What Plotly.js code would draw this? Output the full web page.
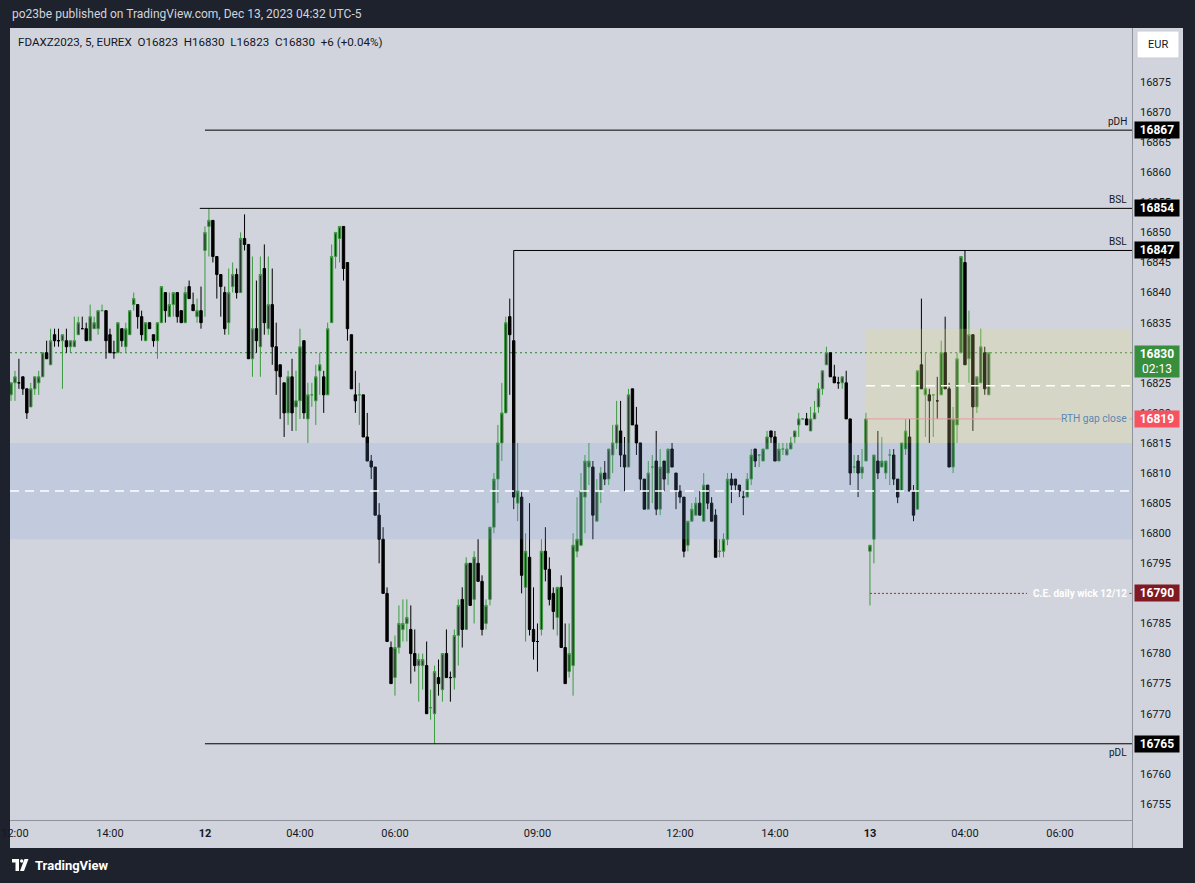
<!DOCTYPE html>
<html><head><meta charset="utf-8">
<script src="https://cdn.plot.ly/plotly-3.0.1.min.js"></script>
<style>html,body{margin:0;padding:0;background:#1e222d;overflow:hidden}#chart{width:1195px;height:883px}</style>
</head><body><div id="chart"></div>
<script>
// FDAXZ2023, 5-minute candles, Dec 11 11:55 -> Dec 13 04:30 (UTC-5), sessions stacked without gaps
const opens = [
16823,16825,16825,16826,16824,16821,16824,16825,16826,16830,16828,16833,
16832,16832,16832,16831,16831,16833,16834,16834,16832,16834,16834,16837,
16837,16833,16830,16830,16834,16831,16833,16838,16838,16836,16832,16835,
16833,16832,16835,16840,16836,16838,16840,16837,16835,16841,16838,16836,
16837,16847,16851,16852,16846,16843,16840,16835,16841,16843,16840,16849,
16848,16829,16834,16831,16844,16834,16838,16831,16828,16825,16820,16826,
16821,16822,16832,16819,16823,16822,16827,16826,16823,16835,16846,16849,
16851,16845,16833,16823,16823,16823,16816,16812,16811,16803,16799,16790,
16781,16776,16781,16784,16785,16784,16780,16778,16778,16778,16771,16770,
16776,16774,16780,16776,16776,16783,16789,16784,16795,16789,16795,16792,
16785,16789,16801,16809,16815,16820,16836,16832,16805,16806,16791,16796,
16784,16782,16784,16797,16794,16790,16786,16791,16781,16777,16778,16797,
16798,16806,16811,16811,16802,16807,16810,16809,16813,16815,16817,16813,
16811,16824,16818,16815,16809,16804,16811,16812,16804,16812,16810,16814,
16810,16807,16806,16798,16802,16803,16805,16802,16808,16805,16803,16797,
16797,16799,16809,16809,16808,16806,16806,16809,16814,16813,16812,16814,
16817,16816,16812,16814,16813,16814,16816,16818,16819,16819,16817,16819,
16821,16824,16828,16830,16826,16825,16825,16825,16819,16811,16812,16810,
16812,16797,16799,16812,16811,16810,16813,16813,16809,16807,16814,16816,
16807,16804,16828,16823,16823,16823,16822,16823,16830,16824,16811,16818,
16830,16845,16829,16833,16821,16825,16830,16823];
const highs = [
16825,16827,16829,16826,16824,16825,16826,16827,16830,16832,16834,16834,
16834,16833,16834,16832,16836,16836,16836,16835,16838,16836,16837,16838,
16837,16834,16832,16835,16834,16835,16837,16840,16838,16837,16835,16835,
16833,16835,16841,16840,16840,16840,16840,16837,16841,16842,16840,16839,
16841,16851,16854,16852,16846,16843,16841,16844,16845,16844,16850,16853,
16848,16846,16842,16846,16848,16846,16844,16835,16828,16825,16827,16829,
16827,16834,16832,16825,16825,16828,16830,16827,16835,16848,16850,16851,
16851,16845,16833,16827,16825,16823,16820,16813,16811,16805,16801,16791,
16782,16783,16788,16789,16789,16788,16784,16780,16780,16782,16774,16778,
16779,16780,16784,16777,16784,16789,16791,16796,16795,16797,16799,16793,
16789,16801,16810,16818,16825,16836,16839,16847,16815,16807,16800,16805,
16791,16785,16799,16801,16796,16791,16791,16793,16785,16785,16800,16806,
16810,16813,16815,16812,16809,16811,16812,16814,16818,16822,16822,16816,
16824,16824,16821,16815,16809,16812,16813,16817,16814,16812,16814,16815,
16810,16808,16806,16802,16805,16806,16807,16810,16808,16806,16804,16799,
16800,16810,16810,16809,16808,16807,16810,16814,16814,16813,16814,16817,
16817,16817,16815,16815,16815,16816,16817,16820,16819,16820,16821,16822,
16825,16827,16831,16830,16828,16826,16826,16827,16819,16813,16813,16814,
16820,16798,16813,16817,16816,16812,16814,16814,16809,16815,16819,16819,
16808,16827,16839,16830,16824,16823,16826,16832,16836,16825,16821,16830,
16846,16847,16837,16833,16826,16834,16831,16830];
const lows = [
16822,16822,16824,16823,16819,16821,16823,16823,16826,16829,16828,16831,
16831,16824,16830,16830,16831,16833,16834,16832,16832,16834,16833,16837,
16829,16830,16829,16830,16831,16830,16833,16837,16834,16832,16832,16834,
16831,16829,16835,16835,16836,16836,16835,16835,16835,16839,16837,16835,
16834,16836,16846,16845,16839,16836,16833,16833,16840,16839,16840,16847,
16829,16826,16830,16826,16833,16833,16828,16823,16819,16816,16818,16817,
16817,16819,16819,16815,16821,16818,16823,16820,16823,16835,16844,16845,
16842,16832,16824,16820,16818,16816,16812,16809,16803,16795,16790,16782,
16775,16773,16780,16782,16782,16775,16777,16772,16774,16770,16769,16765,
16773,16772,16776,16772,16774,16778,16781,16784,16788,16785,16792,16783,
16784,16788,16800,16805,16812,16820,16823,16804,16802,16790,16782,16783,
16779,16777,16783,16792,16788,16784,16783,16781,16775,16776,16773,16796,
16798,16800,16808,16799,16802,16805,16808,16808,16810,16814,16811,16807,
16811,16818,16813,16807,16804,16804,16805,16803,16803,16807,16808,16811,
16804,16805,16796,16797,16802,16803,16803,16802,16804,16802,16796,16796,
16796,16798,16805,16807,16806,16803,16806,16808,16811,16811,16812,16814,
16815,16812,16812,16813,16813,16814,16815,16816,16819,16818,16817,16819,
16820,16823,16828,16826,16825,16824,16824,16819,16808,16810,16806,16809,
16812,16788,16795,16809,16811,16809,16808,16808,16805,16807,16813,16807,
16802,16804,16824,16816,16815,16816,16819,16823,16824,16811,16810,16815,
16830,16828,16825,16817,16820,16825,16823,16823];
const closes = [
16825,16826,16825,16824,16820,16824,16826,16826,16830,16829,16832,16832,
16832,16833,16831,16832,16832,16835,16834,16832,16836,16835,16837,16837,
16832,16830,16830,16835,16832,16834,16837,16839,16836,16833,16835,16834,
16832,16835,16841,16837,16838,16840,16836,16835,16840,16839,16837,16837,
16835,16850,16852,16846,16843,16841,16834,16840,16843,16840,16849,16848,
16829,16834,16832,16843,16835,16838,16831,16827,16826,16820,16826,16820,
16822,16831,16820,16823,16823,16826,16828,16823,16834,16846,16850,16851,
16844,16834,16824,16822,16823,16816,16812,16811,16803,16799,16790,16782,
16775,16781,16785,16785,16786,16780,16778,16779,16779,16770,16771,16777,
16775,16780,16776,16776,16783,16788,16784,16795,16788,16796,16792,16784,
16788,16801,16809,16815,16820,16835,16833,16806,16807,16793,16797,16784,
16782,16782,16797,16794,16789,16787,16791,16781,16775,16780,16798,16799,
16807,16812,16812,16803,16807,16810,16809,16814,16815,16818,16813,16811,
16823,16818,16815,16809,16804,16810,16811,16804,16811,16809,16814,16811,
16807,16806,16797,16802,16804,16805,16803,16808,16805,16802,16796,16797,
16799,16809,16808,16808,16807,16806,16809,16813,16812,16813,16814,16816,
16816,16812,16814,16814,16814,16815,16817,16819,16819,16818,16819,16820,
16824,16827,16830,16826,16825,16825,16826,16819,16810,16811,16810,16811,
16819,16798,16813,16810,16812,16812,16813,16809,16806,16815,16817,16807,
16803,16827,16824,16824,16822,16823,16822,16830,16824,16811,16819,16829,
16846,16828,16833,16821,16826,16831,16824,16830];

// time axis (bar index of each label)
const timeTickBars = [1, 25, 49, 73, 97, 133, 169, 193, 217, 241, 265];
const timeTickText = ['12:00','14:00','<b>12</b>','04:00','06:00','09:00','12:00','14:00','<b>13</b>','04:00','06:00'];
const priceTicks = [16755,16760,16765,16770,16775,16780,16785,16790,16795,16800,16805,16810,16815,16820,16825,16830,16835,16840,16845,16850,16855,16860,16865,16870,16875];

// drawn levels
const levelNames = ['pDH','BSL','BSL','pDL'];
const levelValues = [16867, 16854, 16847, 16765];
const levelStartBar = [49, 47.7, 127, 49];
const blueZone = [16799, 16815];
const yellowZone = [16815, 16834];
const yellowZoneStartBar = 216;
const gapClose = 16819;
const ceWick = 16790;
const ceStartBar = 217;
const lastPrice = 16830;
const countdown = '02:13';

// ---- layout helpers (pixel -> paper) ----
const PL = 10, PR = 1132, PT = 28, PB = 820;
const PX = p => (p - PL) / (PR - PL);
const PY = p => (PB - p) / (PB - PT);
const FONT = 'Roboto, "Liberation Sans", sans-serif';
const DARK = '#131722';

const bars = opens.map((_, i) => i);

const trace = {
  type: 'candlestick', x: bars, open: opens, high: highs, low: lows, close: closes,
  increasing: {line: {color: '#3b9b3f', width: 1}, fillcolor: '#2b3a2e'},
  decreasing: {line: {color: '#000000', width: 1}, fillcolor: '#000000'},
  whiskerwidth: 0, hoverinfo: 'skip', showlegend: false
};

const shapes = [];
// light chart panel
shapes.push({type:'rect', xref:'paper', yref:'paper', x0:PX(10), x1:PX(1183), y0:PY(848), y1:PY(28),
  fillcolor:'#d1d4dc', line:{width:0}, layer:'below'});
// last price dotted line
shapes.push({type:'line', xref:'paper', yref:'y', x0:0, x1:1, y0:lastPrice, y1:lastPrice,
  line:{color:'#2e7d32', width:1, dash:'2px,3px'}, layer:'below'});
// zones (above candles, translucent)
shapes.push({type:'rect', xref:'paper', yref:'y', x0:0, x1:1, y0:blueZone[0], y1:blueZone[1],
  fillcolor:'rgba(125,158,232,0.17)', line:{width:0}, layer:'above'});
shapes.push({type:'rect', xref:'x', yref:'y', x0:yellowZoneStartBar, x1:400, y0:yellowZone[0], y1:yellowZone[1],
  fillcolor:'rgba(232,222,128,0.22)', line:{width:0}, layer:'above'});
// zone midlines
shapes.push({type:'line', xref:'paper', yref:'y', x0:0, x1:1, y0:(blueZone[0]+blueZone[1])/2, y1:(blueZone[0]+blueZone[1])/2,
  line:{color:'#ffffff', width:1.5, dash:'9px,6px'}, layer:'above'});
shapes.push({type:'line', xref:'x', yref:'y', x0:yellowZoneStartBar, x1:400, y0:(yellowZone[0]+yellowZone[1])/2, y1:(yellowZone[0]+yellowZone[1])/2,
  line:{color:'#ffffff', width:1.5, dash:'9px,6px'}, layer:'above'});
// levels
levelValues.forEach((v, i) => {
  shapes.push({type:'line', xref:'x', yref:'y', x0:levelStartBar[i], x1:400, y0:v, y1:v,
    line:{color:'#000000', width:1}, layer:'above'});
});
// RTH gap close line (interrupted by its label)
const gx0 = PX(PL + (yellowZoneStartBar + 0.253) * (PR - PL) / 283.45);
shapes.push({type:'line', xref:'paper', yref:'y', x0:gx0, x1:PX(1061), y0:gapClose, y1:gapClose,
  line:{color:'#e39aa0', width:1}, layer:'above'});
shapes.push({type:'line', xref:'paper', yref:'y', x0:PX(1129.5), x1:1, y0:gapClose, y1:gapClose,
  line:{color:'#e39aa0', width:1}, layer:'above'});
// C.E. daily wick line
const cx0 = PX(PL + (ceStartBar + 0.253) * (PR - PL) / 283.45);
shapes.push({type:'line', xref:'paper', yref:'y', x0:cx0, x1:PX(1027), y0:ceWick, y1:ceWick,
  line:{color:'#c0202e', width:1, dash:'2px,2px'}, layer:'above'});
shapes.push({type:'line', xref:'paper', yref:'y', x0:PX(1129.5), x1:1, y0:ceWick, y1:ceWick,
  line:{color:'#c0202e', width:1, dash:'2px,2px'}, layer:'above'});
// pane separators
shapes.push({type:'line', xref:'paper', yref:'paper', x0:PX(1132.5), x1:PX(1132.5), y0:PY(848), y1:PY(28),
  line:{color:'#8e929b', width:1}, layer:'above'});
shapes.push({type:'line', xref:'paper', yref:'paper', x0:PX(10), x1:PX(1133), y0:PY(820.5), y1:PY(820.5),
  line:{color:'#8e929b', width:1}, layer:'above'});
// EUR button
shapes.push({type:'rect', xref:'paper', yref:'paper', x0:PX(1137), x1:PX(1179), y0:PY(58), y1:PY(31),
  fillcolor:'#ffffff', line:{color:'#c9ccd3', width:1}, layer:'above'});
// TradingView logo
const pPath = pts => 'M' + pts.map(p => PX(p[0]) + ',' + PY(p[1])).join(' L') + ' Z';
shapes.push({type:'path', xref:'paper', yref:'paper', path:pPath([[12,859],[19,859],[19,871],[15.5,871],[15.5,862.5],[12,862.5]]),
  fillcolor:'#ffffff', line:{width:0}});
shapes.push({type:'circle', xref:'paper', yref:'paper', x0:PX(20), x1:PX(23.4), y0:PY(862.7), y1:PY(859.3),
  fillcolor:'#ffffff', line:{width:0}});
shapes.push({type:'path', xref:'paper', yref:'paper', path:pPath([[24.5,859],[28.5,859],[24,871],[20,871]]),
  fillcolor:'#ffffff', line:{width:0}});

const ann = [];
ann.push({xref:'paper', yref:'paper', x:PX(10), y:PY(14), xanchor:'left', yanchor:'middle', showarrow:false,
  text:'po23be published on TradingView.com, Dec 13, 2023 04:32 UTC-5', font:{family:FONT, size:12, color:'#d1d4dc'}});
ann.push({xref:'paper', yref:'paper', x:PX(16), y:PY(42), xanchor:'left', yanchor:'middle', showarrow:false,
  text:'FDAXZ2023, 5, EUREX&nbsp; O' + opens[opens.length-1] + '&nbsp; H' + highs[highs.length-1] + '&nbsp; L' + lows[lows.length-1] +
       '&nbsp; C' + closes[closes.length-1] + '&nbsp; +6 (+0.04%)', font:{family:FONT, size:11.6, color:DARK}});
ann.push({xref:'paper', yref:'paper', x:PX(1158), y:PY(44.5), xanchor:'center', yanchor:'middle', showarrow:false,
  text:'EUR', font:{family:FONT, size:11, color:DARK}});
ann.push({xref:'paper', yref:'paper', x:PX(33), y:PY(865), xanchor:'left', yanchor:'middle', showarrow:false,
  text:'<b>TradingView</b>', font:{family:FONT, size:13, color:'#ffffff'}});

// level text + price boxes
levelNames.forEach((n, i) => {
  const below = n === 'pDL';
  ann.push({xref:'paper', yref:'y', x:PX(1129), y:levelValues[i], xanchor:'right', yanchor: below ? 'top' : 'bottom',
    yshift: below ? -1 : 1, showarrow:false, text:n, font:{family:FONT, size:10, color:DARK}});
});
const boxLabel = (v, bg, extra) => Object.assign({xref:'paper', yref:'y', x:PX(1134), y:v, xanchor:'left', yanchor:'middle',
  showarrow:false, text:'<b>' + v + '</b>', bgcolor:bg, borderpad:2, width:40, height:12, align:'center',
  font:{family:FONT, size:12, color:'#ffffff'}}, extra || {});
levelValues.forEach(v => ann.push(boxLabel(v, '#000000')));
ann.push(boxLabel(gapClose, '#f7525f'));
ann.push(boxLabel(ceWick, '#801922'));
ann.push(boxLabel(lastPrice, '#388e3c', {text:'<b>' + lastPrice + '</b><br>' + countdown, height:27, yanchor:'top', yshift:8}));
ann.push({xref:'paper', yref:'y', x:PX(1129), y:gapClose, xanchor:'right', yanchor:'middle', showarrow:false,
  text:'RTH gap close', font:{family:FONT, size:10.2, color:'#5b87b3'}});
ann.push({xref:'paper', yref:'y', x:PX(1129), y:ceWick, xanchor:'right', yanchor:'middle', showarrow:false,
  text:'<b>C.E. daily wick 12/12</b>', font:{family:FONT, size:10, color:'#ffffff'}});

const layout = {
  width: 1195, height: 883, autosize: false,
  margin: {l: PL, r: 1195 - PR, t: PT, b: 883 - PB, pad: 0},
  paper_bgcolor: '#1e222d', plot_bgcolor: 'rgba(0,0,0,0)',
  font: {family: FONT, color: DARK},
  showlegend: false, boxgap: 0.4, boxgroupgap: 0,
  xaxis: {type: 'linear', range: [-0.253, 283.2], tickvals: timeTickBars, ticktext: timeTickText,
    showgrid: false, zeroline: false, showline: false, ticks: '', ticklabelstandoff: 5,
    tickfont: {family: FONT, size: 11, color: DARK}, rangeslider: {visible: false}, fixedrange: true},
  yaxis: {side: 'right', range: [16752.33, 16883.98], tickvals: priceTicks, ticktext: priceTicks.map(String),
    showgrid: false, zeroline: false, showline: false, ticks: '', ticklabelstandoff: 7,
    tickfont: {family: FONT, size: 11, color: DARK}, fixedrange: true},
  shapes: shapes, annotations: ann
};
Plotly.newPlot('chart', [trace], layout, {displayModeBar: false, staticPlot: true});
</script></body></html>
